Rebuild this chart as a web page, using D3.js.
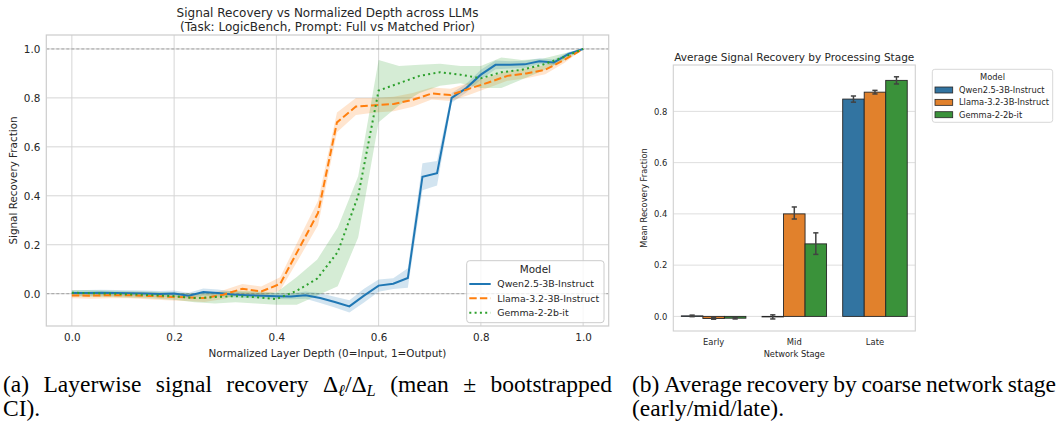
<!DOCTYPE html>
<html>
<head>
<meta charset="utf-8">
<script src="https://cdn.jsdelivr.net/npm/d3@7"></script>
<style>
  body { margin: 0; background: #fff; }
  svg text { font-family: "DejaVu Sans", sans-serif; fill: #262626; }
  .cap { font-family: "Liberation Serif", serif; fill: #000; }
</style>
</head>
<body>
<script>

// Models
var models = ["Qwen2.5-3B-Instruct", "Llama-3.2-3B-Instruct", "Gemma-2-2b-it"];
var lineColors = ["#1f77b4", "#ff7f0e", "#2ca02c"];
var barColors = ["#3274a1", "#e1812c", "#3a923a"];

// Layerwise recovery (mean and bootstrapped CI), one value per layer
var qwenMean = [0.003, 0.003, 0.004, 0.003, 0.002, 0.001, -0.001, 0.001, -0.008, 0.007,
  0.003, -0.003, -0.006, -0.008, -0.01, -0.011, -0.006, -0.018, -0.034, -0.052,
  -0.008, 0.033, 0.041, 0.064, 0.478, 0.492, 0.80, 0.84, 0.895, 0.935,
  0.935, 0.937, 0.95, 0.945, 0.98, 1.0];
var qwenLo = [-0.007, -0.009, -0.008, -0.009, -0.01, -0.011, -0.013, -0.011, -0.02, -0.007,
  -0.011, -0.015, -0.018, -0.02, -0.022, -0.023, -0.021, -0.038, -0.056, -0.077,
  -0.036, 0.008, 0.019, 0.024, 0.423, 0.442, 0.78, 0.822, 0.875, 0.917,
  0.92, 0.922, 0.938, 0.933, 0.972, 1.0];
var qwenHi = [0.013, 0.015, 0.016, 0.015, 0.014, 0.013, 0.011, 0.013, 0.004, 0.021,
  0.017, 0.009, 0.006, 0.004, 0.002, 0.001, 0.009, 0.002, -0.012, -0.027,
  0.02, 0.058, 0.063, 0.104, 0.533, 0.542, 0.82, 0.858, 0.915, 0.953,
  0.95, 0.952, 0.962, 0.957, 0.988, 1.0];

var llamaMean = [-0.007, -0.008, -0.006, -0.006, -0.009, -0.012, -0.015, -0.018, -0.004, 0.02,
  0.009, 0.04, 0.185, 0.33, 0.70, 0.765, 0.77, 0.775, 0.792, 0.818,
  0.812, 0.838, 0.863, 0.89, 0.90, 0.915, 0.955, 1.0];
var llamaLo = [-0.019, -0.021, -0.019, -0.019, -0.023, -0.027, -0.03, -0.034, -0.022, 0.0,
  -0.011, 0.013, 0.145, 0.28, 0.66, 0.73, 0.74, 0.745, 0.764, 0.793,
  0.787, 0.813, 0.841, 0.87, 0.88, 0.897, 0.943, 1.0];
var llamaHi = [0.005, 0.005, 0.007, 0.007, 0.005, 0.003, 0.0, -0.002, 0.014, 0.04,
  0.029, 0.067, 0.225, 0.38, 0.74, 0.80, 0.80, 0.805, 0.82, 0.843,
  0.837, 0.863, 0.885, 0.91, 0.92, 0.933, 0.967, 1.0];

var gemmaMean = [0.004, 0.002, 0.0, -0.003, -0.006, -0.01, -0.018, -0.014, -0.01, -0.014,
  -0.022, 0.012, 0.062, 0.17, 0.40, 0.83, 0.86, 0.89, 0.905, 0.895,
  0.88, 0.905, 0.915, 0.935, 0.965, 1.0];
var gemmaLo = [-0.01, -0.012, -0.014, -0.017, -0.02, -0.025, -0.035, -0.04, -0.035, -0.04,
  -0.045, -0.045, -0.007, 0.03, 0.23, 0.70, 0.77, 0.82, 0.85, 0.86,
  0.84, 0.84, 0.875, 0.91, 0.95, 1.0];
var gemmaHi = [0.015, 0.014, 0.012, 0.01, 0.008, 0.005, 0.0, 0.006, 0.012, 0.01,
  0.005, 0.068, 0.14, 0.27, 0.48, 0.955, 0.93, 0.935, 0.94, 0.93,
  0.93, 0.965, 0.955, 0.96, 0.98, 1.0];

// Stage averages
var stages = ["Early", "Mid", "Late"];
var qwenStage = [0.002, -0.002, 0.848];
var qwenStageLo = [-0.001, -0.01, 0.836];
var qwenStageHi = [0.005, 0.006, 0.86];
var llamaStage = [-0.008, 0.40, 0.875];
var llamaStageLo = [-0.011, 0.38, 0.868];
var llamaStageHi = [-0.005, 0.427, 0.882];
var gemmaStage = [-0.007, 0.283, 0.921];
var gemmaStageLo = [-0.01, 0.242, 0.907];
var gemmaStageHi = [-0.004, 0.326, 0.935];

var depthTicks = [0, 0.2, 0.4, 0.6, 0.8, 1.0];
var recoveryTicks = [0, 0.2, 0.4, 0.6, 0.8, 1.0];
var stageTicks = [0, 0.2, 0.4, 0.6, 0.8];


var toRows = function(mean, lo, hi) {
  return mean.map(function(m, i) {
    return { depth: i / (mean.length - 1), mean: m, lo: lo[i], hi: hi[i] };
  });
};

var series = [
  toRows(qwenMean, qwenLo, qwenHi),
  toRows(llamaMean, llamaLo, llamaHi),
  toRows(gemmaMean, gemmaLo, gemmaHi)
];
var dashes = [null, "7.4,3.2", "2,3.3"];

var svg = d3.select("body").append("svg")
  .attr("width", 1060)
  .attr("height", 429);
svg.append("rect").attr("width", 1060).attr("height", 429).attr("fill", "#fff");


// ---- (a) line chart
var A = { left: 46.3, right: 608.7, top: 35, bottom: 326 };
var x = d3.scaleLinear().domain([-0.05, 1.05]).range([A.left, A.right]);
var y = d3.scaleLinear().domain([-0.132, 1.057]).range([A.bottom, A.top]);

var gA = svg.append("g");

gA.selectAll(".vgrid").data(depthTicks).enter().append("line")
  .attr("x1", function(d) { return x(d); })
  .attr("x2", function(d) { return x(d); })
  .attr("y1", A.top).attr("y2", A.bottom)
  .attr("stroke", "#d5d5d5").attr("stroke-width", 1);
gA.selectAll(".hgrid").data(recoveryTicks).enter().append("line")
  .attr("x1", A.left).attr("x2", A.right)
  .attr("y1", function(d) { return y(d); })
  .attr("y2", function(d) { return y(d); })
  .attr("stroke", "#d5d5d5").attr("stroke-width", 1);

// reference lines at 0 and 1
gA.selectAll(".ref").data([0, 1]).enter().append("line")
  .attr("x1", A.left).attr("x2", A.right)
  .attr("y1", function(d) { return y(d); })
  .attr("y2", function(d) { return y(d); })
  .attr("stroke", "#9a9a9a").attr("stroke-width", 0.9)
  .attr("stroke-dasharray", "3,2");

var band = d3.area()
  .x(function(d) { return x(d.depth); })
  .y0(function(d) { return y(d.lo); })
  .y1(function(d) { return y(d.hi); });
var line = d3.line()
  .x(function(d) { return x(d.depth); })
  .y(function(d) { return y(d.mean); });

series.forEach(function(rows, i) {
  gA.append("path").attr("d", band(rows))
    .attr("fill", lineColors[i]).attr("fill-opacity", 0.2).attr("stroke", "none");
});
series.forEach(function(rows, i) {
  gA.append("path").attr("d", line(rows))
    .attr("fill", "none").attr("stroke", lineColors[i]).attr("stroke-width", 2)
    .attr("stroke-dasharray", dashes[i]);
});

gA.append("rect")
  .attr("x", A.left).attr("y", A.top)
  .attr("width", A.right - A.left).attr("height", A.bottom - A.top)
  .attr("fill", "none").attr("stroke", "#cccccc").attr("stroke-width", 1.2);

var xAxisA = gA.append("g")
  .attr("transform", "translate(0," + A.bottom + ")")
  .call(d3.axisBottom(x).tickValues(depthTicks).tickFormat(d3.format(".1f")).tickSize(0).tickPadding(8));
var yAxisA = gA.append("g")
  .attr("transform", "translate(" + A.left + ",0)")
  .call(d3.axisLeft(y).tickValues(recoveryTicks).tickFormat(d3.format(".1f")).tickSize(0).tickPadding(6));
[xAxisA, yAxisA].forEach(function(ax) {
  ax.select(".domain").remove();
  ax.selectAll("text").style("font-size", "10.4px").attr("fill", "#262626");
});

gA.append("text").attr("x", (A.left + A.right) / 2).attr("y", 17)
  .attr("text-anchor", "middle").style("font-size", "12px")
  .text("Signal Recovery vs Normalized Depth across LLMs");
gA.append("text").attr("x", (A.left + A.right) / 2).attr("y", 31)
  .attr("text-anchor", "middle").style("font-size", "12px")
  .text("(Task: LogicBench, Prompt: Full vs Matched Prior)");
gA.append("text").attr("x", (A.left + A.right) / 2).attr("y", 356.5)
  .attr("text-anchor", "middle").style("font-size", "10.4px")
  .text("Normalized Layer Depth (0=Input, 1=Output)");
gA.append("text")
  .attr("transform", "translate(16.5," + (A.top + A.bottom) / 2 + ") rotate(-90)")
  .attr("text-anchor", "middle").style("font-size", "10.4px")
  .text("Signal Recovery Fraction");

// legend (a)
var legA = gA.append("g").attr("transform", "translate(466.7,260.7)");
legA.append("rect").attr("width", 137.3).attr("height", 62).attr("rx", 3)
  .attr("fill", "#fff").attr("fill-opacity", 0.8).attr("stroke", "#cccccc");
legA.append("text").attr("x", 68.7).attr("y", 12.3).attr("text-anchor", "middle")
  .style("font-size", "10.4px").text("Model");
models.forEach(function(m, i) {
  var ly = 23.3 + i * 14.35;
  legA.append("line").attr("x1", 2.6).attr("x2", 24).attr("y1", ly).attr("y2", ly)
    .attr("stroke", lineColors[i]).attr("stroke-width", 2).attr("stroke-dasharray", dashes[i]);
  legA.append("text").attr("x", 30.6).attr("y", ly + 3.4)
    .style("font-size", "9.4px").text(m);
});


// ---- (b) bar chart
var B = { left: 673.3, right: 915.3, top: 65, bottom: 331 };
var xs = d3.scaleBand().domain(stages).range([B.left, B.right]);
var xm = d3.scaleBand().domain(models)
  .range([xs.bandwidth() * 0.1, xs.bandwidth() * 0.9]);
var yb = d3.scaleLinear().domain([-0.057, 0.981]).range([B.bottom, B.top]);

var bars = [];
[[qwenStage, qwenStageLo, qwenStageHi],
 [llamaStage, llamaStageLo, llamaStageHi],
 [gemmaStage, gemmaStageLo, gemmaStageHi]].forEach(function(s, mi) {
  stages.forEach(function(st, si) {
    bars.push({ stage: st, model: models[mi], color: barColors[mi],
      value: s[0][si], lo: s[1][si], hi: s[2][si] });
  });
});

var gB = svg.append("g");
gB.selectAll(".hgrid").data(stageTicks).enter().append("line")
  .attr("x1", B.left).attr("x2", B.right)
  .attr("y1", function(d) { return yb(d); })
  .attr("y2", function(d) { return yb(d); })
  .attr("stroke", "#dedede").attr("stroke-width", 1);

gB.selectAll(".bar").data(bars).enter().append("rect")
  .attr("x", function(d) { return xs(d.stage) + xm(d.model); })
  .attr("width", xm.bandwidth())
  .attr("y", function(d) { return yb(Math.max(d.value, 0)); })
  .attr("height", function(d) { return Math.abs(yb(d.value) - yb(0)); })
  .attr("fill", function(d) { return d.color; })
  .attr("stroke", "#262626").attr("stroke-width", 0.9);

var cx = function(d) { return xs(d.stage) + xm(d.model) + xm.bandwidth() / 2; };
var err = gB.selectAll(".err").data(bars).enter().append("g")
  .attr("stroke", "#424242").attr("stroke-width", 1.5);
err.append("line")
  .attr("x1", cx).attr("x2", cx)
  .attr("y1", function(d) { return yb(d.lo); })
  .attr("y2", function(d) { return yb(d.hi); });
[function(d) { return d.lo; }, function(d) { return d.hi; }].forEach(function(f) {
  err.append("line")
    .attr("x1", function(d) { return cx(d) - 2.6; })
    .attr("x2", function(d) { return cx(d) + 2.6; })
    .attr("y1", function(d) { return yb(f(d)); })
    .attr("y2", function(d) { return yb(f(d)); });
});

gB.append("rect")
  .attr("x", B.left).attr("y", B.top)
  .attr("width", B.right - B.left).attr("height", B.bottom - B.top)
  .attr("fill", "none").attr("stroke", "#d0d0d0").attr("stroke-width", 1.1);

var xAxisB = gB.append("g")
  .attr("transform", "translate(0," + B.bottom + ")")
  .call(d3.axisBottom(xs).tickSize(0).tickPadding(8));
var yAxisB = gB.append("g")
  .attr("transform", "translate(" + B.left + ",0)")
  .call(d3.axisLeft(yb).tickValues(stageTicks).tickFormat(d3.format(".1f")).tickSize(0).tickPadding(6));
[xAxisB, yAxisB].forEach(function(ax) {
  ax.select(".domain").remove();
  ax.selectAll("text").style("font-size", "8.4px").attr("fill", "#262626");
});

gB.append("text").attr("x", (B.left + B.right) / 2).attr("y", 60.5)
  .attr("text-anchor", "middle").style("font-size", "10.5px")
  .text("Average Signal Recovery by Processing Stage");
gB.append("text").attr("x", (B.left + B.right) / 2).attr("y", 357.3)
  .attr("text-anchor", "middle").style("font-size", "8.3px")
  .text("Network Stage");
gB.append("text")
  .attr("transform", "translate(647," + (B.top + B.bottom) / 2 + ") rotate(-90)")
  .attr("text-anchor", "middle").style("font-size", "8.3px")
  .text("Mean Recovery Fraction");

// legend (b)
var legB = gB.append("g").attr("transform", "translate(932.3,69.3)");
legB.append("rect").attr("width", 120.4).attr("height", 53).attr("rx", 2.5)
  .attr("fill", "#fff").attr("stroke", "#d8d8d8");
legB.append("text").attr("x", 60.2).attr("y", 10.5).attr("text-anchor", "middle")
  .style("font-size", "8.3px").text("Model");
models.forEach(function(m, i) {
  var ly = 20.7 + i * 12.35;
  legB.append("rect").attr("x", 2.7).attr("y", ly - 3).attr("width", 17.7).attr("height", 6)
    .attr("fill", barColors[i]).attr("stroke", "#262626").attr("stroke-width", 0.8);
  legB.append("text").attr("x", 26.7).attr("y", ly + 3)
    .style("font-size", "8.3px").text(m);
});


// ---- captions (justified first lines)
var capSize = 23.5;
var putJustified = function(words, x0, x1, base) {
  var nodes = words.map(function(w) {
    var t = svg.append("text").attr("class", "cap").attr("y", base)
      .style("font-size", capSize + "px");
    w.forEach(function(part) {
      var s = t.append("tspan").text(part.t);
      if (part.sub) {
        s.style("font-size", (capSize * 0.7) + "px").style("font-style", "italic")
          .attr("baseline-shift", "-22%");
      }
    });
    return t;
  });
  var widths = nodes.map(function(n) { return n.node().getComputedTextLength(); });
  var gap = (x1 - x0 - d3.sum(widths)) / (nodes.length - 1);
  var cur = x0;
  nodes.forEach(function(n, i) {
    n.attr("x", cur);
    n.selectAll("tspan").filter(function(d, j) { return j === 0; }).attr("x", cur);
    cur += widths[i] + gap;
  });
};
var plain = function(s) { return [{ t: s }]; };
var capA = ["(a)", "Layerwise", "signal", "recovery"].map(plain)
  .concat([[{ t: "\u0394" }, { t: "\u2113", sub: true }, { t: "/\u0394" }, { t: "L", sub: true }]])
  .concat(["(mean", "\u00b1", "bootstrapped"].map(plain));
putJustified(capA, 3, 612, 392);
svg.append("text").attr("class", "cap").attr("x", 3).attr("y", 416)
  .style("font-size", capSize + "px").text("CI).");

var capB = ["(b)", "Average", "recovery", "by", "coarse", "network", "stage"].map(plain);
putJustified(capB, 632, 1056, 392);
svg.append("text").attr("class", "cap").attr("x", 632).attr("y", 416)
  .style("font-size", capSize + "px").text("(early/mid/late).");

</script>
</body>
</html>
